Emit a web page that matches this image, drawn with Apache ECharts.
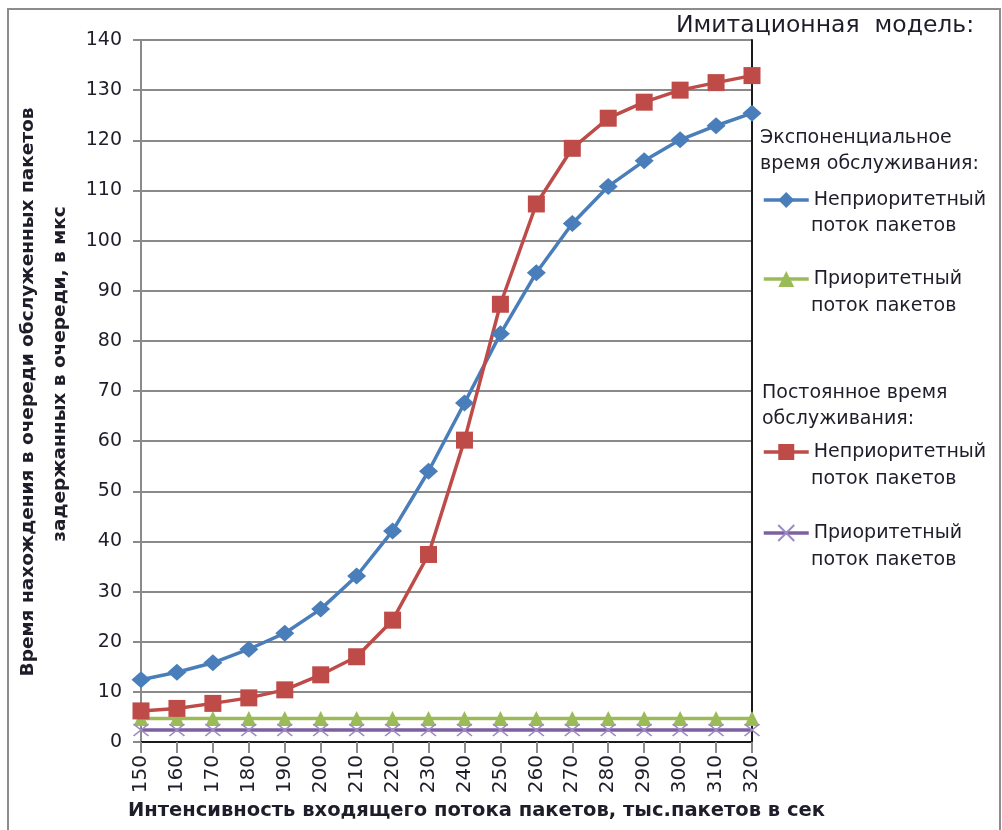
<!DOCTYPE html>
<html>
<head>
<meta charset="utf-8">
<script src="https://cdn.jsdelivr.net/npm/echarts@6/dist/echarts.min.js"></script>
<style>html,body{margin:0;padding:0;background:#fff;}#c{width:1002px;height:830px;}</style>
</head>
<body>
<div id="c"></div>
<script>
// ---- data ----
const categories = ['150','160','170','180','190','200','210','220','230','240','250','260','270','280','290','300','310','320'];
const expNonPriority = [12.4, 13.9, 15.8, 18.5, 21.7, 26.5, 33.1, 42.1, 54.0, 67.6, 81.4, 93.6, 103.4, 110.8, 115.9, 120.1, 122.9, 125.4];
const expPriority = [4.7, 4.7, 4.7, 4.7, 4.7, 4.7, 4.7, 4.7, 4.7, 4.7, 4.7, 4.7, 4.7, 4.7, 4.7, 4.7, 4.7, 4.7];
const constNonPriority = [6.2, 6.7, 7.7, 8.8, 10.4, 13.4, 17.0, 24.3, 37.4, 60.2, 87.3, 107.3, 118.4, 124.4, 127.6, 130.0, 131.5, 132.9];
const constPriority = [2.4, 2.4, 2.4, 2.4, 2.4, 2.4, 2.4, 2.4, 2.4, 2.4, 2.4, 2.4, 2.4, 2.4, 2.4, 2.4, 2.4, 2.4];
const yTicks = {min: 0, max: 140, interval: 10};

const titleText = 'Имитационная  модель:';
const xName = 'Интенсивность входящего потока пакетов, тыс.пакетов в сек';
const yNameLine1 = 'Время нахождения в очереди обслуженных пакетов';
const yNameLine2 = 'задержанных в очереди, в мкс';
const groupExp = 'Экспоненциальное\nвремя обслуживания:';
const groupConst = 'Постоянное время\nобслуживания:';
const line1NP = 'Неприоритетный';
const line1P = 'Приоритетный';
const line2 = 'поток пакетов';
const seriesNames = ['Эксп. неприоритетный', 'Эксп. приоритетный', 'Пост. неприоритетный', 'Пост. приоритетный'];

const FONT = 'DejaVu Sans';
const TXT = '#1e1e2a';
const LEG_FONT = '19px "DejaVu Sans"';
const crossPath = 'path://M0,0L10,10M10,0L0,10';

const chart = echarts.init(document.getElementById('c'), null, {renderer: 'canvas'});

function legendAt(name, label, top) {
  return {
    data: [name], left: 762, top: top, orient: 'vertical', padding: 0,
    itemWidth: 45, itemHeight: 20, itemGap: 0, selectedMode: false,
    formatter: () => label,
    lineStyle: {width: 3.5},
    textStyle: {fontFamily: FONT, fontSize: 19, color: TXT, lineHeight: 20}
  };
}

const option = {
  animation: false,
  backgroundColor: '#fff',
  grid: {left: 141, right: 250, top: 40, bottom: 88, outerBoundsMode: 'none', containLabel: false},
  legend: [
    legendAt(seriesNames[0], line1NP, 190),
    legendAt(seriesNames[1], line1P, 269),
    legendAt(seriesNames[2], line1NP, 442),
    legendAt(seriesNames[3], line1P, 523)
  ],
  xAxis: [{
    type: 'category', data: categories, boundaryGap: false,
    axisLine: {show: true, lineStyle: {color: '#8a8a8a', width: 2}},
    axisTick: {show: true, alignWithLabel: true, interval: 0, length: 11, lineStyle: {color: '#8a8a8a', width: 2}},
    axisLabel: {interval: 0, rotate: 90, fontFamily: FONT, fontSize: 20, color: TXT, margin: 13},
    splitLine: {show: false},
    name: xName, nameLocation: 'middle', nameGap: 58,
    nameTextStyle: {fontFamily: FONT, fontSize: 19.5, fontWeight: 'bold', color: TXT, padding: [0, 0, 0, 60]}
  }, {
    type: 'category', data: categories, boundaryGap: false, position: 'top',
    axisLine: {show: true, lineStyle: {color: '#1a1a1a', width: 2}},
    axisTick: {show: false}, axisLabel: {show: false}, splitLine: {show: false}
  }],
  yAxis: [{
    type: 'value', min: yTicks.min, max: yTicks.max, interval: yTicks.interval,
    axisLine: {show: true, lineStyle: {color: '#8a8a8a', width: 2}},
    axisTick: {show: true, length: 8, lineStyle: {color: '#8a8a8a', width: 2}},
    axisLabel: {fontFamily: FONT, fontSize: 19, color: TXT, margin: 19},
    splitLine: {show: true, lineStyle: {color: '#8a8a8a', width: 2}}
  }, {
    type: 'value', min: yTicks.min, max: yTicks.max, interval: yTicks.interval, position: 'right',
    axisLine: {show: true, lineStyle: {color: '#1a1a1a', width: 2}},
    axisTick: {show: false}, axisLabel: {show: false}, splitLine: {show: false}
  }],
  series: [
    {name: seriesNames[0], type: 'line', data: expNonPriority, symbol: 'diamond', symbolSize: [19, 17],
     lineStyle: {color: '#4a7ebb', width: 3.5}, itemStyle: {color: '#4a7ebb'}},
    {name: seriesNames[1], type: 'line', data: expPriority, symbol: 'triangle', symbolSize: 15,
     lineStyle: {color: '#9bbb59', width: 3.5}, itemStyle: {color: '#9bbb59'}},
    {name: seriesNames[2], type: 'line', data: constNonPriority, symbol: 'rect', symbolSize: 17,
     lineStyle: {color: '#be4b48', width: 3.5}, itemStyle: {color: '#be4b48'}},
    {name: seriesNames[3], type: 'line', data: constPriority, symbol: crossPath, symbolSize: [15, 12],
     lineStyle: {color: '#7d60a0', width: 3.5}, itemStyle: {color: 'rgba(0,0,0,0)', borderColor: '#9d8ac4', borderWidth: 1.5}}
  ],
  graphic: [
    {type: 'rect', shape: {x: 8, y: 9, width: 992, height: 840}, style: {fill: 'none', stroke: '#8c8c8c', lineWidth: 2}, silent: true, z: -1},
    {type: 'text', x: 676, y: 26, style: {text: titleText, font: '23.5px "DejaVu Sans"', fill: TXT, textVerticalAlign: 'middle'}},
    {type: 'text', x: 28, y: 392, rotation: Math.PI / 2, style: {text: yNameLine1, font: 'bold 18.5px "DejaVu Sans"', fill: TXT, textAlign: 'center', textVerticalAlign: 'middle'}},
    {type: 'text', x: 60, y: 374, rotation: Math.PI / 2, style: {text: yNameLine2, font: 'bold 18.5px "DejaVu Sans"', fill: TXT, textAlign: 'center', textVerticalAlign: 'middle'}},
    {type: 'text', x: 760, y: 125, style: {text: groupExp, font: LEG_FONT, fill: TXT, lineHeight: 26, textVerticalAlign: 'top'}},
    {type: 'text', x: 811, y: 226, style: {text: line2, font: LEG_FONT, fill: TXT, textVerticalAlign: 'middle'}},
    {type: 'text', x: 811, y: 306, style: {text: line2, font: LEG_FONT, fill: TXT, textVerticalAlign: 'middle'}},
    {type: 'text', x: 762, y: 380, style: {text: groupConst, font: LEG_FONT, fill: TXT, lineHeight: 26, textVerticalAlign: 'top'}},
    {type: 'text', x: 811, y: 479, style: {text: line2, font: LEG_FONT, fill: TXT, textVerticalAlign: 'middle'}},
    {type: 'text', x: 811, y: 560, style: {text: line2, font: LEG_FONT, fill: TXT, textVerticalAlign: 'middle'}}
  ]
};
chart.setOption(option);
</script>
</body>
</html>
